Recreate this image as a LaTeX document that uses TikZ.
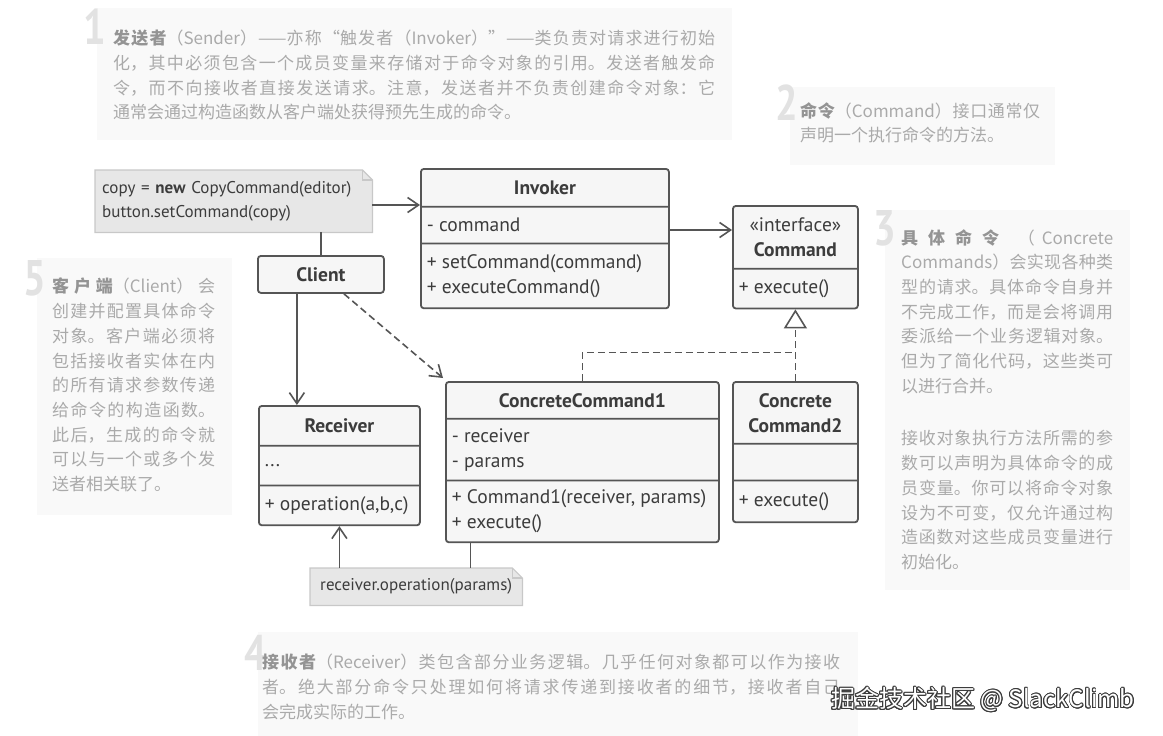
\documentclass[tikz,border=0pt]{standalone}
\usepackage{fontspec}
\usepackage{xcolor}
\usepackage{tikz}
\usepackage{contour}
\usetikzlibrary{positioning,calc,shapes.multipart,arrows.meta,backgrounds}
\newfontfamily\umlfont{PT Sans}
\newfontfamily\cjk{Noto Sans CJK SC}
\XeTeXlinebreaklocale "zh"
\XeTeXlinebreakskip=0pt plus 4pt
\setlength{\parindent}{0pt}
\tolerance=10000
\hbadness=10000
\contourlength{0.9pt}
\definecolor{lineColor}{RGB}{85,85,85}
\definecolor{umlText}{RGB}{60,60,60}
\definecolor{boxFill}{RGB}{246,246,246}
\definecolor{noteFill}{RGB}{231,231,231}
\definecolor{noteLine}{RGB}{200,200,200}
\definecolor{textGray}{RGB}{170,170,170}
\definecolor{termGray}{RGB}{148,148,148}
\definecolor{blockFill}{RGB}{249,249,249}
\definecolor{numGray}{RGB}{226,226,226}
\definecolor{wmLine}{RGB}{60,60,60}
% class compartments
\newcommand{\chead}[3]{\parbox[c][#2][c]{#1}{\centering\bfseries\baselineskip=25pt\relax #3\par}}
\newcommand{\crow}[3]{\parbox[c][#2][c]{#1}{\raggedright\leftskip=6pt\baselineskip=25pt\relax #3\par}}
\newcommand{\keyterm}[1]{{\bfseries\color{termGray}#1}}
\newcommand{\bignum}[1]{\scalebox{0.8}[1]{#1}}
% note with folded corner
\newcommand{\notefold}[1]{%
  \filldraw[fill=noteFill, draw=noteLine, line width=1.2pt] (#1.north west) -- ([xshift=-10pt]#1.north east)
    -- ([yshift=-10pt]#1.north east) -- (#1.south east) -- (#1.south west) -- cycle;
  \draw[noteLine, line width=1.2pt] ([xshift=-10pt]#1.north east) |- ([yshift=-10pt]#1.north east);}
\tikzset{
    umlclass/.style={
        rectangle split,
        rectangle split parts=#1,
        draw=lineColor,
        line width=1.8pt,
        fill=boxFill,
        rounded corners=3pt,
        inner sep=0pt,
        anchor=north west,
        text=umlText,
        font=\umlfont\fontsize{19.5}{23}\selectfont
    },
    umlbox/.style={
        draw=lineColor, line width=1.8pt, fill=boxFill, rounded corners=3pt,
        minimum width=126pt, minimum height=37pt, anchor=north west,
        text=umlText, font=\umlfont\bfseries\fontsize{19.5}{23}\selectfont
    },
    note/.style={
        anchor=north west, inner xsep=7pt, inner ysep=0pt,
        text=umlText, font=\umlfont\fontsize{17}{24}\selectfont
    },
    ptr/.style={
        draw=lineColor, line width=1.6pt,
        -{Straight Barb[length=11pt, width=15pt, line width=1.6pt]}
    },
    dashptr/.style={ptr, dash pattern=on 7pt off 4pt},
    implptr/.style={
        draw=lineColor, line width=1.6pt, dash pattern=on 7pt off 4pt,
        -{Triangle[open, length=19pt, width=23pt, line width=1.6pt]}
    },
    link/.style={draw=lineColor, line width=1.6pt},
    blockbg/.style={fill=blockFill, anchor=north west, inner sep=0pt},
    blocknum/.style={anchor=base west, inner sep=0pt, text=numGray,
        font=\umlfont\bfseries\fontsize{50}{50}\selectfont},
    blocktext/.style={anchor=north west, inner sep=0pt, align=justify, text=textGray,
        font=\cjk\fontsize{17}{24.7}\selectfont}
}
\begin{document}
\begin{tikzpicture}[x=1pt, y=-1pt]
\useasboundingbox (0,0) rectangle (1163,736);

% 1 sender
\node[blockbg, minimum width=635pt, minimum height=132pt] (b1) at (97,8) {};
\node[blocknum] (k1) at (83,45) {\bignum{1}};
\node[blocktext, text width=602pt] (t1) at (113,30) {\keyterm{发送者}（Sender）——亦称“触发者（Invoker）”——类负责对请求进行初始\linebreak
化，其中必须包含一个成员变量来存储对于命令对象的引用。发送者触发命\linebreak
令，而不向接收者直接发送请求。注意，发送者并不负责创建命令对象：它\linebreak
通常会通过构造函数从客户端处获得预先生成的命令。};

% 2 command
\node[blockbg, minimum width=265pt, minimum height=78pt] (b2) at (790,87) {};
\node[blocknum] (k2) at (775,120) {\bignum{2}};
\node[blocktext, text width=240pt] (t2) at (800,102) {\keyterm{命令}（Command）接口通常仅\linebreak
声明一个执行命令的方法。};

% 3 concrete commands
\node[blockbg, minimum width=245pt, minimum height=380pt] (b3) at (885,210) {};
\node[blocknum] (k3) at (873,245) {\bignum{3}};
\node[blocktext, text width=212pt] (t3) at (901,229) {\keyterm{具\hspace{10pt}体\hspace{10pt}命\hspace{10pt}令}\hfill（\hspace{7pt}Concrete\linebreak
Commands）会实现各种类\linebreak
型的请求。具体命令自身并\linebreak
不完成工作，而是会将调用\linebreak
委派给一个业务逻辑对象。\linebreak
但为了简化代码，这些类可\linebreak
以进行合并。\par\vspace{28pt}
接收对象执行方法所需的参\linebreak
数可以声明为具体命令的成\linebreak
员变量。你可以将命令对象\linebreak
设为不可变，仅允许通过构\linebreak
造函数对这些成员变量进行\linebreak
初始化。};

% 5 client
\node[blockbg, minimum width=195pt, minimum height=257pt] (b5) at (37,258) {};
\node[blocknum] (k5) at (23,295) {\bignum{5}};
\node[blocktext, text width=163pt] (t5) at (52,278) {\keyterm{客户端}（Client）会\linebreak
创建并配置具体命令\linebreak
对象。客户端必须将\linebreak
包括接收者实体在内\linebreak
的所有请求参数传递\linebreak
给命令的构造函数。\linebreak
此后，生成的命令就\linebreak
可以与一个或多个发\linebreak
送者相关联了。};

% 4 receiver
\node[blockbg, minimum width=600pt, minimum height=104pt] (b4) at (258,632) {};
\node[blocknum] (k4) at (244,670) {\bignum{4}};
\node[blocktext, text width=578pt] (t4) at (262,654) {\keyterm{接收者}（Receiver）类包含部分业务逻辑。几乎任何对象都可以作为接收\linebreak
者。绝大部分命令只处理如何将请求传递到接收者的细节，接收者自己\linebreak
会完成实际的工作。};

% classes
\node[umlclass=3] (inv) at (420,168) {\chead{248pt}{36pt}{Invoker}\nodepart{two}\crow{248pt}{35pt}{- command}\nodepart{three}\crow{248pt}{63pt}{+ setCommand(command)\\+ executeCommand()}};
\node[umlclass=2] (cmd) at (732,205) {\chead{125pt}{61pt}{{\mdseries «interface»}\\Command}\nodepart{two}\crow{125pt}{38pt}{+ execute()}};
\node[umlbox] (cl) at (257,255) {Client};
\node[umlclass=3] (rec) at (258,405) {\chead{161pt}{38pt}{Receiver}\nodepart{two}\crow{161pt}{38pt}{...}\nodepart{three}\crow{161pt}{38pt}{+ operation(a,b,c)}};
\node[umlclass=3] (cc1) at (445,381) {\chead{273pt}{35pt}{ConcreteCommand1}\nodepart{two}\crow{273pt}{60pt}{- receiver\\- params}\nodepart{three}\crow{273pt}{60pt}{+ Command1(receiver, params)\\+ execute()}};
\node[umlclass=3] (cc2) at (732,381) {\chead{125pt}{60pt}{Concrete\\Command2}\nodepart{two}\crow{125pt}{35pt}{}\nodepart{three}\crow{125pt}{40pt}{+ execute()}};

% notes
\node[note, text width=263pt, minimum height=62pt, align=left] (n1) at (95,170) {copy = \textbf{new} CopyCommand(editor)\\button.setCommand(copy)};
\node[note, minimum width=212pt, minimum height=37pt] (n2) at (310,568) {receiver.operation(params)};

% arrows
\coordinate (invIn) at ([yshift=-37pt]inv.north west);
\coordinate (cmdIn) at ([yshift=-25pt]cmd.north west);
\coordinate (clOut) at ([xshift=-24pt]cl.south);
\coordinate (joint) at ($(cc2.north)!0.4!(cmd.south)$);
\draw[ptr] (n1.east |- invIn) -- (invIn);
\draw[link] (cl.north |- n1.south) -- (cl.north);
\draw[ptr] (inv.east |- cmdIn) -- (cmdIn);
\draw[implptr] (cc2.north) -- (cmd.south);
\draw[implptr, -] (cc1.north) |- (joint);
\draw[ptr] (clOut) -- (clOut |- rec.north);
\draw[dashptr] ([xshift=23pt]cl.south) -- ([xshift=-2pt,yshift=3pt]cc1.north west);
\draw[link] ([xshift=-52pt]n2.north east) -- ([xshift=-52pt]n2.north east |- cc1.south);
\draw[ptr] (n2.north -| rec.south) -- (rec.south);

\node[font=\cjk\fontsize{24}{24}\selectfont, text=white] (wm) at (983,700) {\contour{wmLine}{掘金技术社区 @ SlackClimb}};

\begin{scope}[on background layer]
  \fill[white] (0,0) rectangle (1163,736);
  \notefold{n1}
  \notefold{n2}
\end{scope}
\end{tikzpicture}
\end{document}
